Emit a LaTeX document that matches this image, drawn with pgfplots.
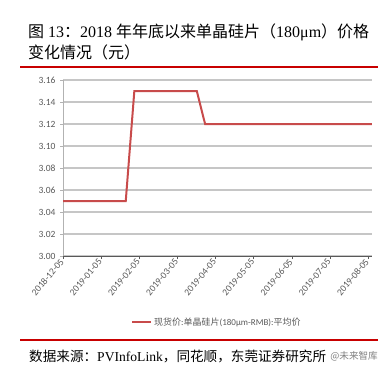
\documentclass[border=0pt]{standalone}
\usepackage{pgfplots}
\pgfplotsset{compat=1.18}
\usepackage{fontspec}
\setmainfont{Liberation Serif}
\newfontfamily\cjk{Noto Sans CJK SC}
\newfontfamily\lab{Carlito}
\definecolor{serred}{RGB}{200,75,75}
\definecolor{rulered}{RGB}{200,0,0}
\definecolor{labgray}{RGB}{89,89,89}
\begin{document}
\begin{tikzpicture}
\useasboundingbox (0,0) rectangle (388bp,-370bp);
\node[anchor=west, inner sep=0pt, font=\fontsize{16bp}{20bp}\selectfont] at (28bp,-32bp) {{\cjk 图} 13{\cjk ：}2018 {\cjk 年年底以来单晶硅片（}180μm{\cjk ）价格}};
\node[anchor=west, inner sep=0pt, font=\fontsize{16bp}{20bp}\selectfont] at (28bp,-52bp) {{\cjk 变化情况（元）}};
\draw[rulered, line width=1.3bp] (20bp,-67bp) -- (378bp,-67bp);
\draw[rulered, line width=1.3bp] (20bp,-340bp) -- (378bp,-340bp);
\node[anchor=west, inner sep=0pt, font=\fontsize{13.6bp}{16bp}\selectfont] at (29bp,-356bp) {{\cjk 数据来源：}PVInfoLink{\cjk ，同花顺，东莞证券研究所}};
\node[anchor=east, inner sep=0pt, text=gray, font=\fontsize{9.6bp}{11bp}\selectfont\cjk] at (378bp,-356bp) {@未来智库};
\begin{axis}[
  at={(63bp,-256bp)}, anchor=south west,
  scale only axis, width=309bp, height=176bp,
  xmin=0, xmax=8.1, ymin=3.00, ymax=3.16,
  axis x line*=bottom, axis y line*=left,
  x axis line style={draw=gray!70!black, line width=0.8bp, -},
  y axis line style={draw=gray!60, line width=0.8bp, -},
  xtick={0,1,2,3,4,5,6,7,8},
  xticklabels={2018-12-05,2019-01-05,2019-02-05,2019-03-05,2019-04-05,2019-05-05,2019-06-05,2019-07-05,2019-08-05},
  ytick={3.00,3.02,3.04,3.06,3.08,3.10,3.12,3.14,3.16},
  /pgf/number format/fixed,
  /pgf/number format/fixed zerofill,
  /pgf/number format/precision=2,
  /pgf/number format/assume math mode=true,
  tick align=outside,
  major tick length=3bp,
  x tick style={draw=gray!70!black, line width=0.6bp},
  y tick style={draw=gray!60, line width=0.6bp},
  ymajorgrids,
  grid style={draw=gray!45, line width=1.2bp},
  ticklabel style={font=\fontsize{9.5bp}{11bp}\selectfont\lab, text=labgray},
  xticklabel style={rotate=50, anchor=east, inner sep=1.5bp},
  yticklabel style={xshift=-1bp},
  legend style={at={(0.498,-0.375)}, anchor=center, draw=none, fill=none,
    font=\fontsize{9bp}{11bp}\selectfont\lab, text=labgray, inner sep=0pt},
  legend image code/.code={\draw[serred, line width=2bp] (0bp,0bp) -- (19bp,0bp);},
  legend cell align=left,
]
\addplot[serred, line width=2bp, mark=none] coordinates {
  (0,3.05) (1.645,3.05) (1.87,3.15) (3.507,3.15) (3.725,3.12) (8.1,3.12)
};
\addlegendentry{{\cjk 现货价}:{\cjk 单晶硅片}(180μm-RMB):{\cjk 平均价}}
\end{axis}
\end{tikzpicture}
\end{document}
